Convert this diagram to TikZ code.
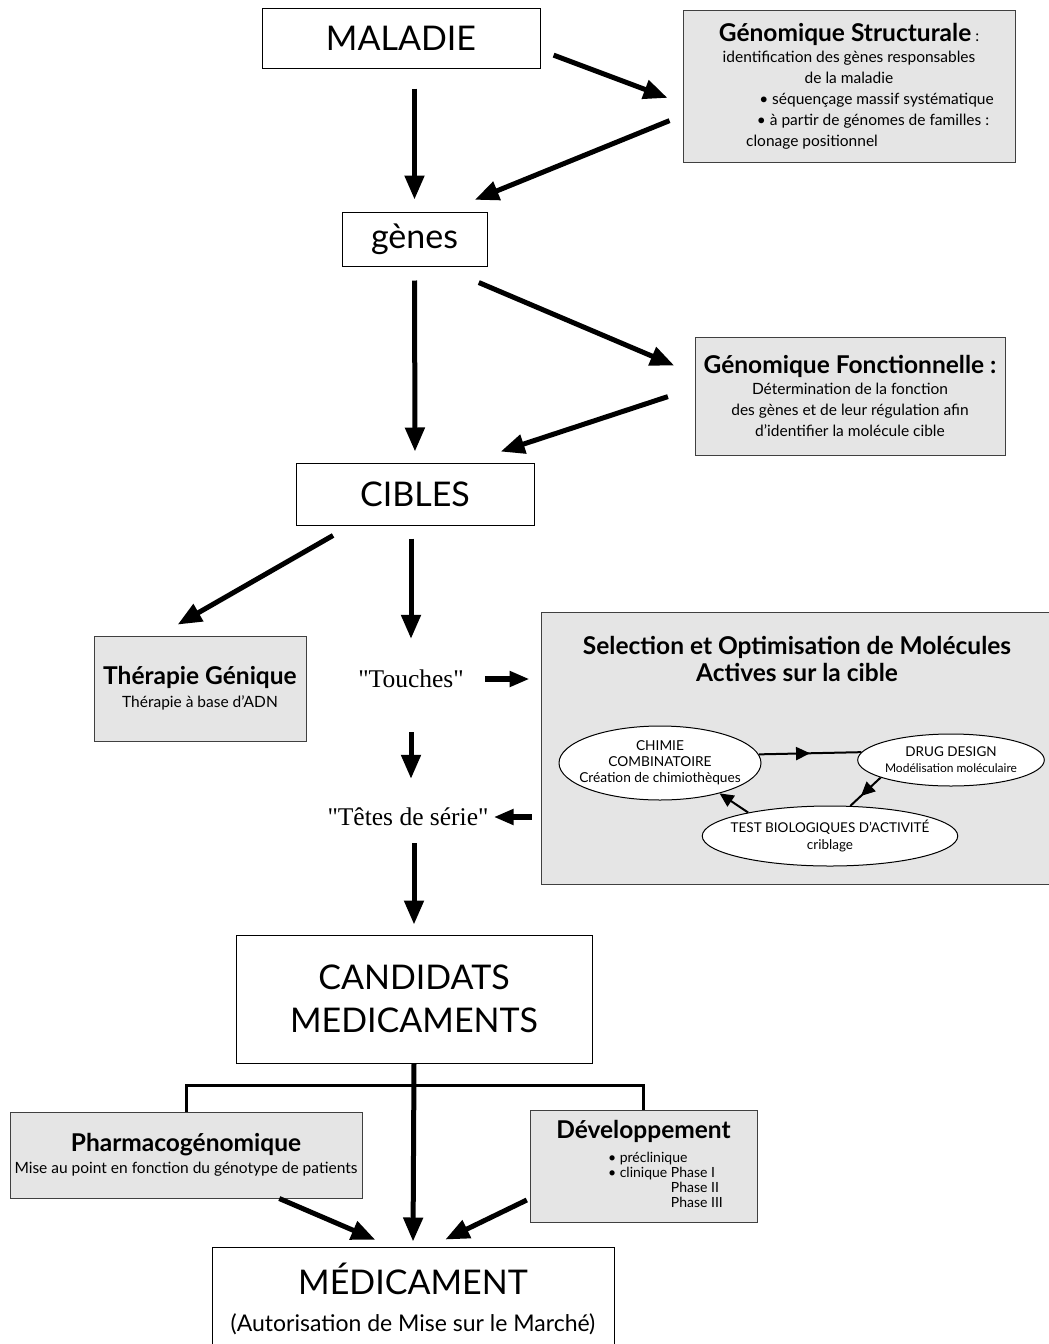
\documentclass[tikz,border=0pt]{standalone}
\usepackage{fontspec}
\setmainfont{Lato}
\newfontfamily\quotefont{Liberation Serif}
\usepackage{xcolor}
\usepackage{tikz}
\usetikzlibrary{arrows.meta,positioning,shapes.geometric,decorations.markings}

\definecolor{boxgray}{gray}{0.9}
\newcommand{\hugefont}{\fontsize{34}{43}\selectfont}
\newcommand{\titlefont}{\fontsize{24.5}{27}\selectfont\bfseries}
\newcommand{\smallfont}{\fontsize{15.5}{21}\selectfont}

\begin{document}
\begin{tikzpicture}[x=1pt, y=-1pt,
  box/.style={rectangle, draw, line width=1pt, inner sep=0pt, align=center},
  shaded/.style={box, draw=black!75, fill=boxgray},
  bubble/.style={ellipse, draw, line width=1pt, fill=white, inner ysep=0pt, align=center},
  quoted/.style={inner sep=0pt, font=\quotefont\fontsize{25.5}{28}\selectfont},
  flow/.style={line width=5pt, -{Triangle[length=24pt,width=19pt]}},
  stub/.style={line width=6pt, -{Triangle[length=20pt,width=15pt]}},
  loopline/.style={line width=2pt, postaction={decorate},
    decoration={markings, mark=at position #1 with {\arrow{Triangle[length=14pt,width=13pt]}}}},
  forkline/.style={line width=3pt}]

  \useasboundingbox (0,0) rectangle (1049,1344);

  \node[box, minimum width=278pt, minimum height=60pt, font=\hugefont] (maladie) at (401,38) {MALADIE};
  \node[shaded, minimum width=332pt, minimum height=152pt, font=\smallfont] (struct) at (849,86)
    {{\titlefont Génomique Structurale} :\\
     identification des gènes responsables\\
     de la maladie\hspace*{31pt}\\
     \hspace*{55pt}• séquençage massif systématique\\
     \hspace*{48pt}• à partir de génomes de familles :\\
     clonage positionnel\hspace*{74pt}};
  \node[box, minimum width=145pt, minimum height=54pt, font=\hugefont] (genes) at (414.5,239) {gènes};
  \node[shaded, minimum width=310pt, minimum height=118pt, font=\smallfont] (fonc) at (850,396)
    {{\titlefont Génomique Fonctionnelle :}\\
     Détermination de la fonction\\
     des gènes et de leur régulation afin\\
     d’identifier la molécule cible};
  \node[box, minimum width=238pt, minimum height=62pt, font=\hugefont] (cibles) at (415,494) {CIBLES};

  \node[shaded, minimum width=212pt, minimum height=105pt, font=\smallfont] (ther) at (200,688.5)
    {{\titlefont Thérapie Génique}\\[2pt] Thérapie à base d’ADN};
  \node[quoted] (touches) at (411,679) {"Touches"};
  \node[quoted] (tetes) at (408,817) {"Têtes de série"};

  \node[shaded, minimum width=514pt, minimum height=272pt] (sel) at (798,748) {};
  \node[align=center, font=\titlefont] (seltitle) at (797,659)
    {Selection et Optimisation de Molécules\\ Actives sur la cible};
  \node[bubble, inner xsep=-10pt, minimum width=202pt, minimum height=74pt, font=\fontsize{13.7}{16}\selectfont] (chimie) at (660,763)
    {CHIMIE\\ COMBINATOIRE\\ Création de chimiothèques};
  \node[bubble, inner xsep=0pt, minimum width=182pt, minimum height=52pt, font=\fontsize{13.5}{16}\selectfont] (drug) at (951,760)
    {DRUG DESIGN\\ {\fontsize{12}{14}\selectfont Modélisation moléculaire}};
  \node[bubble, inner xsep=-9pt, minimum width=254pt, minimum height=60pt, font=\fontsize{13.5}{17}\selectfont] (test) at (830,836)
    {TEST BIOLOGIQUES D’ACTIVITÉ\\ criblage};

  \node[box, minimum width=356pt, minimum height=128pt, font=\hugefont] (cand) at (414,999)
    {CANDIDATS\\ MEDICAMENTS};
  \node[shaded, minimum width=352pt, minimum height=86pt, font=\smallfont] (pharma) at (186,1155)
    {{\titlefont Pharmacogénomique}\\[1pt] Mise au point en fonction du génotype de patients};
  \node[shaded, minimum width=227pt, minimum height=112pt, font=\fontsize{14}{15}\selectfont] (dev) at (643.5,1166)
    {{\titlefont Développement}\\[9pt]
     \hspace*{44pt}\begin{tabular}{@{}l@{ }l@{}}
       \multicolumn{2}{@{}l@{}}{• préclinique}\\
       • clinique & Phase I\\
                  & Phase II\\
                  & Phase III
     \end{tabular}};
  \node[box, minimum width=402pt, minimum height=103pt, font=\fontsize{23}{37}\selectfont] (med) at (413,1298.5)
    {{\hugefont MÉDICAMENT}\\ (Autorisation de Mise sur le Marché)};

  \coordinate (fork) at (414,1085);

  \path[flow]
    (genes.north |- maladie.south) edge[shorten <=20pt, shorten >=12pt] (genes.north)
    (maladie.-5) edge[shorten <=14pt, shorten >=16pt] (struct.186)
    (struct.190) edge[shorten <=14pt, shorten >=31pt] (genes.41)
    (genes.south) edge[shorten <=14pt, shorten >=11pt] (cibles.north)
    (genes.-46) edge[shorten <=41pt, shorten >=22pt] (fonc.172)
    (fonc.177) edge[shorten <=28pt, shorten >=35pt] (cibles.31)
    (cibles.206) edge[shorten <=20pt, shorten >=22pt] (ther.128)
    (cibles.south -| touches.north) edge[shorten <=13pt, shorten >=31pt] (touches.north)
    (touches.south) edge[shorten <=44pt, shorten >=29pt] (touches.south |- tetes.north)
    (cand.north |- tetes.south) edge[shorten <=17pt, shorten >=10pt] (cand.north)
    (cand.south) edge[shorten >=5pt] (med.north)
    (pharma.-25) edge[shorten >=17pt] (med.113)
    (dev.196) edge[shorten <=3pt, shorten >=16pt] (med.71);

  \path[stub]
    (touches.east) edge[shorten <=21pt, shorten >=11pt] (touches.east -| sel.west)
    (sel.west |- tetes.east) edge[shorten <=9pt, shorten >=5pt] (tetes.east);

  \draw[forkline] (pharma.north) |- (fork) -| (dev.north);

  \draw[loopline=0.5] (chimie.5) -- (drug.175);
  \draw[loopline=0.65] (drug.194) -- (test.56);
  \draw[line width=2pt, -{Triangle[length=14pt,width=13pt]}] (test.164) -- (chimie.-27);

\end{tikzpicture}
\end{document}
